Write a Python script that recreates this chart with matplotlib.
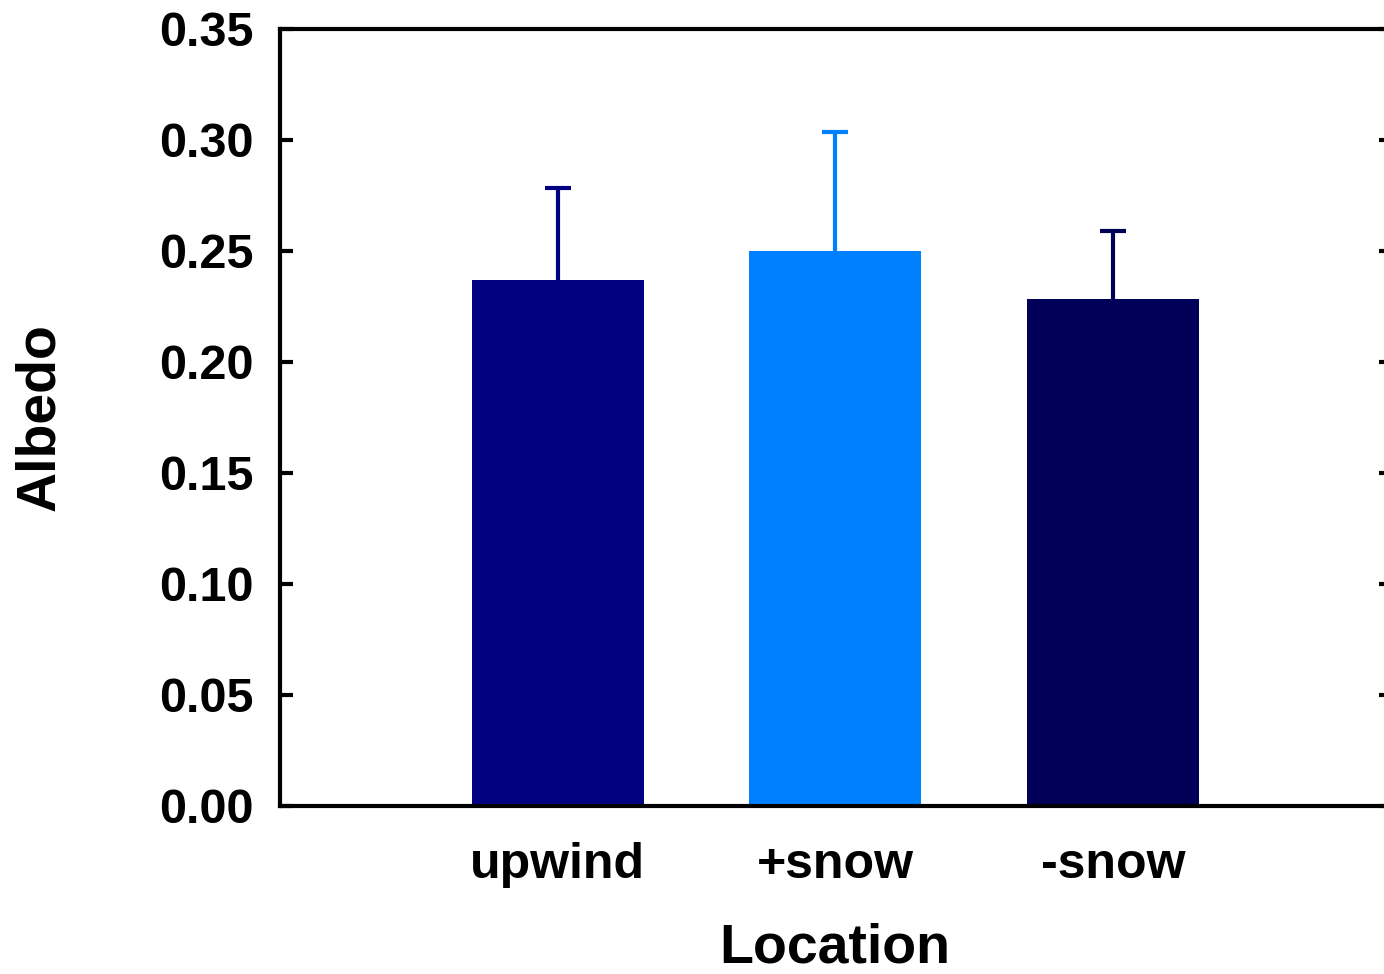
import matplotlib
matplotlib.use("Agg")
import matplotlib.pyplot as plt

# Albedo by location
locations = ["upwind", "+snow", "-snow"]
albedo = [0.237, 0.250, 0.2285]
albedo_err = [0.0413, 0.0534, 0.0305]
bar_colors = ["#000080", "#0080FF", "#000058"]
y_ticks = [0.00, 0.05, 0.10, 0.15, 0.20, 0.25, 0.30, 0.35]

plt.rcParams["font.family"] = ["Liberation Sans", "DejaVu Sans"]
plt.rcParams["font.weight"] = "bold"

fig = plt.figure(figsize=(13.84, 9.74), dpi=100)
ax = fig.add_axes([280 / 1384, 1 - 805.5 / 974, (1390.5 - 280) / 1384, (805.5 - 29) / 974])

x = list(range(len(locations)))
ax.bar(x, albedo, width=0.62, color=bar_colors, zorder=2)
for xi, v, e, c in zip(x, albedo, albedo_err, bar_colors):
    _, caps, _ = ax.errorbar([xi], [v], yerr=[[0], [e]], fmt="none", ecolor=c,
                             elinewidth=3, capsize=9.4, capthick=3, zorder=1)
    # only the upper cap is shown
    caps[0].remove()

ax.set_xlim(-1, 3)
ax.set_ylim(0, 0.35)
ax.set_yticks(y_ticks)
ax.set_yticklabels([f"{t:.2f}" for t in y_ticks])
ax.set_xticks(x)
ax.set_xticklabels(locations)

for sp in ax.spines.values():
    sp.set_linewidth(3)
ax.tick_params(axis="y", direction="in", left=True, right=True, length=9,
               width=3, labelsize=35, pad=19)
ax.tick_params(axis="x", length=0, labelsize=36, pad=26)

ax.set_ylabel("Albedo", fontsize=40, fontweight="bold", labelpad=67)
ax.set_xlabel("Location", fontsize=40, fontweight="bold", labelpad=25)

fig.savefig("out.png", dpi=100)
